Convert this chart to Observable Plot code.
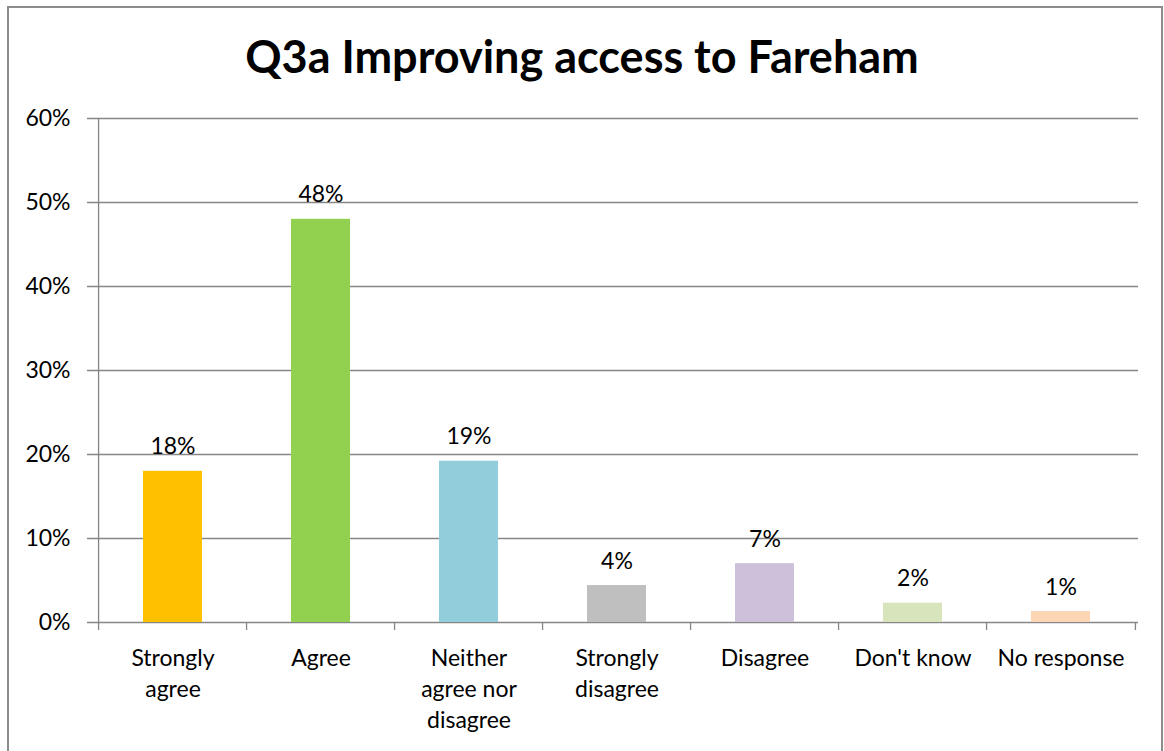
<!DOCTYPE html>
<html><head><meta charset="utf-8">
<script src="https://cdn.jsdelivr.net/npm/d3@7"></script>
<script src="https://cdn.jsdelivr.net/npm/@observablehq/plot@0.6"></script>
<style>
body{margin:0;background:#fff;}
#wrap{position:relative;width:1164px;height:751px;overflow:hidden;font-family:Lato,sans-serif;background:#fff;}
#border{position:absolute;left:7px;top:6px;width:1156px;height:800px;border:2px solid #8c8c8c;box-sizing:border-box;}
#title{position:relative;height:100px;text-align:center;font-weight:bold;font-size:45px;line-height:112px;color:#000;}
#chart{position:relative;}
</style></head>
<body><div id="wrap"><div id="border"></div><div id="title">Q3a Improving access to Fareham</div><div id="chart"></div></div>
<script>
const categories = ["Strongly agree", "Agree", "Neither agree nor disagree", "Strongly disagree", "Disagree", "Don't know", "No response"];
const tickLabels = ["Strongly\nagree", "Agree", "Neither\nagree nor\ndisagree", "Strongly\ndisagree", "Disagree", "Don't know", "No response"];
const values = [18, 48, 19.2, 4.4, 7, 2.3, 1.3];
const valueLabels = ["18%", "48%", "19%", "4%", "7%", "2%", "1%"];
const colors = ["#FFC000", "#92D050", "#92CDDC", "#BFBFBF", "#CCC0DA", "#D8E4BC", "#FCD5B4"];
const yTicks = [0, 10, 20, 30, 40, 50, 60];

const data = categories.map((c, i) => ({category: c, value: values[i], label: valueLabels[i], color: colors[i]}));

const W = 1164, H = 651, mL = 96, mR = 26, mT = 18, mB = 129;
const plotH = H - mT - mB;
const step = (W - mL - mR) / categories.length;
const gray = "#868686";

const chart = Plot.plot({
  width: W, height: H,
  marginLeft: mL, marginRight: mR, marginTop: mT, marginBottom: mB,
  style: {fontFamily: "Lato, sans-serif", color: "#000", background: "transparent"},
  x: {domain: categories, paddingInner: 0.6, paddingOuter: 0.3, axis: null},
  y: {domain: [0, 60], axis: null},
  color: {type: "identity"},
  marks: [
    Plot.ruleY(yTicks, {stroke: gray, strokeWidth: 1.3, insetLeft: -9}),
    Plot.axisY(yTicks, {tickSize: 0, tickPadding: 26, tickFormat: d => d + "%", fontSize: 23, label: null}),
    Plot.barY(data, {x: "category", y: "value", fill: "color"}),
    Plot.ruleX(categories.slice(0, 1), {x: d => d, dx: -step / 2, stroke: gray, strokeWidth: 1.3, insetBottom: -8}),
    Plot.ruleX(categories.slice(1), {x: d => d, dx: -step / 2, stroke: gray, strokeWidth: 1.3, insetTop: plotH, insetBottom: -8}),
    Plot.ruleX(categories.slice(-1), {x: d => d, dx: step / 2, stroke: gray, strokeWidth: 1.3, insetTop: plotH, insetBottom: -8}),
    Plot.text(data, {x: "category", y: "value", text: "label", dy: -17, lineAnchor: "bottom", fontSize: 23, fill: "#000"}),
    Plot.axisX(categories, {tickSize: 0, tickPadding: 21, tickFormat: d => tickLabels[categories.indexOf(d)], fontSize: 23, lineHeight: 1.36, label: null})
  ]
});
document.getElementById("chart").appendChild(chart);
</script>
</body></html>
